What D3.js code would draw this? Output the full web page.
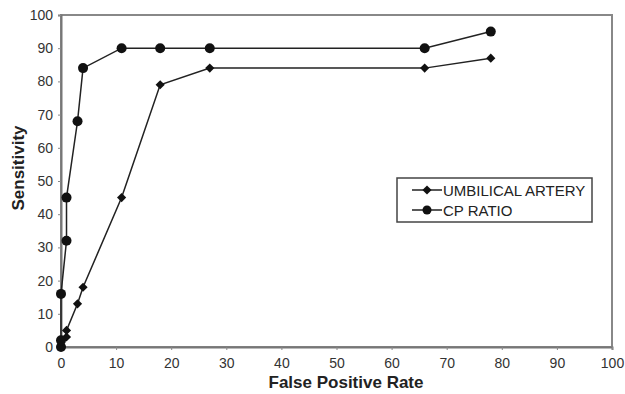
<!DOCTYPE html>
<html><head><meta charset="utf-8">
<script src="https://cdn.jsdelivr.net/npm/d3@7"></script>
<style>body{margin:0;background:#fff}</style>
</head><body>
<svg id="c" width="625" height="394"></svg>
<script>
const uaX = [0, 0, 1, 1, 3, 4, 11, 18, 27, 66, 78];
const uaY = [0, 2, 3, 5, 13, 18, 45, 79, 84, 84, 87];
const cpX = [0, 0, 0, 1, 1, 3, 4, 11, 18, 27, 66, 78];
const cpY = [0, 2, 16, 32, 45, 68, 84, 90, 90, 90, 90, 95];
const xTicks = [0,10,20,30,40,50,60,70,80,90,100];
const yTicks = [0,10,20,30,40,50,60,70,80,90,100];
const seriesNames = ["UMBILICAL ARTERY", "CP RATIO"];

const svg = d3.select("#c");
const L = 61, R = 612, T = 15, B = 347;
const x = d3.scaleLinear().domain([0,100]).range([L,R]);
const y = d3.scaleLinear().domain([0,100]).range([B,T]);
const font = "Liberation Sans, Arial, sans-serif";

svg.append("rect").attr("x",L).attr("y",T).attr("width",R-L).attr("height",B-T)
  .attr("fill","none").attr("stroke","#888").attr("stroke-width",2);

const xa = svg.append("g").attr("transform",`translate(0,${B})`)
  .call(d3.axisBottom(x).tickValues(xTicks).tickSize(3).tickPadding(8));
const ya = svg.append("g").attr("transform",`translate(${L},0)`)
  .call(d3.axisLeft(y).tickValues(yTicks).tickSize(3).tickPadding(5));
[xa,ya].forEach(a=>{
  a.select(".domain").attr("stroke","#777").attr("stroke-width",2);
  a.selectAll(".tick line").attr("stroke","#888");
  a.selectAll("text").attr("font-family",font).attr("font-size",14).attr("fill","#333");
});

const line = d3.line().x(d=>x(d[0])).y(d=>y(d[1]));
const ua = uaX.map((v,i)=>[v,uaY[i]]);
const cp = cpX.map((v,i)=>[v,cpY[i]]);
const diamond = d3.symbol().type(d3.symbolSquare).size(42);

function drawSeries(data, isCircle){
  svg.append("path").datum(data).attr("d",line).attr("fill","none").attr("stroke","#222").attr("stroke-width",1.5);
  const g = svg.append("g");
  data.forEach(d=>{
    if(isCircle) g.append("circle").attr("cx",x(d[0])).attr("cy",y(d[1])).attr("r",5).attr("fill","#111");
    else g.append("path").attr("d",diamond).attr("transform",`translate(${x(d[0])},${y(d[1])}) rotate(45)`).attr("fill","#111");
  });
}
drawSeries(ua,false);
drawSeries(cp,true);

const lg = svg.append("g");
lg.append("rect").attr("x",397).attr("y",178).attr("width",195).attr("height",44)
  .attr("fill","#fff").attr("stroke","#444").attr("stroke-width",1.5);
seriesNames.forEach((n,i)=>{
  const yy = 190 + i*20;
  lg.append("line").attr("x1",412).attr("x2",442).attr("y1",yy).attr("y2",yy).attr("stroke","#222").attr("stroke-width",1.5);
  if(i===1) lg.append("circle").attr("cx",427).attr("cy",yy).attr("r",4.5).attr("fill","#111");
  else lg.append("path").attr("d",diamond).attr("transform",`translate(427,${yy}) rotate(45)`).attr("fill","#111");
  lg.append("text").attr("x",443).attr("y",yy+5.5).text(n).attr("font-family",font).attr("font-size",15).attr("fill","#222");
});

svg.append("text").attr("x",346).attr("y",388).attr("text-anchor","middle")
  .attr("font-family",font).attr("font-size",17).attr("font-weight","bold").attr("fill","#222").text("False Positive Rate");
svg.append("text").attr("transform",`translate(24,168) rotate(-90)`).attr("text-anchor","middle")
  .attr("font-family",font).attr("font-size",17).attr("font-weight","bold").attr("fill","#222").text("Sensitivity");
</script>
</body></html>
